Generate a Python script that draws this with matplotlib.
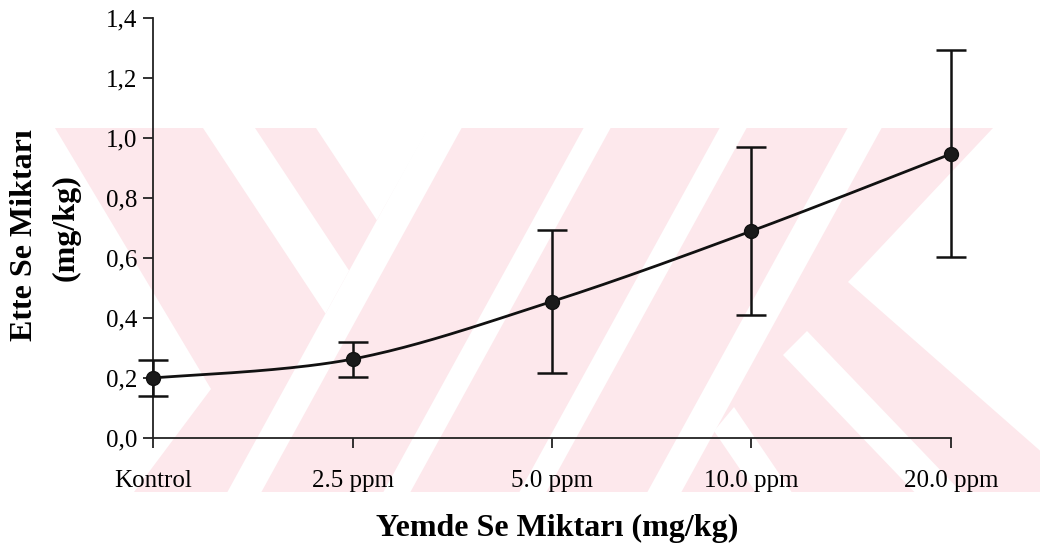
import matplotlib
matplotlib.use('Agg')
import matplotlib.pyplot as plt
import numpy as np
from matplotlib.patches import Polygon, Rectangle

# data
groups = ['Kontrol', '2.5 ppm', '5.0 ppm', '10.0 ppm', '20.0 ppm']
means = [0.200, 0.263, 0.455, 0.690, 0.947]
sd = [0.060, 0.058, 0.238, 0.280, 0.345]
yticks = [0.0, 0.2, 0.4, 0.6, 0.8, 1.0, 1.2, 1.4]
ytick_labels = ['0,0', '0,2', '0,4', '0,6', '0,8', '1,0', '1,2', '1,4']

W, H = 1062, 559
plt.rcParams['font.family'] = ['Liberation Serif', 'DejaVu Serif']

fig = plt.figure(figsize=(W / 100, H / 100), dpi=100)
fig.patch.set_facecolor('white')

# background watermark, drawn in pixel coordinates
bg = fig.add_axes([0, 0, 1, 1], zorder=0)
bg.set_xlim(0, W)
bg.set_ylim(H, 0)
bg.axis('off')
pink = '#fde8ec'
clip = Rectangle((55, 128), 985, 364, transform=bg.transData, fill=False, lw=0)
bg.add_patch(clip)

def add_poly(pts, color='white'):
    p = Polygon(pts, closed=True, fc=color, ec='none')
    bg.add_patch(p)
    p.set_clip_path(clip)

s_up = 0.55    # "/" stripes: x grows by s_up per pixel going up
s_dn = 0.66    # "\" edges on the left

def slash_x(xb, y):
    return xb + s_up * (500 - y)

def meet(xt, xb):
    # "\" edge starting at (xt,128) meets "/" edge with bottom x xb
    y = (xb + s_up * 500 - xt + s_dn * 128) / (s_dn + s_up)
    return (xt + s_dn * (y - 128), y)

add_poly([(55, 128), (1040, 128), (1040, 492), (55, 492)], pink)

# "/" white stripes, given by their x range at the bottom
for a, b in [(223, 257), (379, 406), (515, 542), (643, 677)]:
    add_poly([(slash_x(a, 128), 128), (slash_x(b, 128), 128), (b, 500), (a, 500)])

# left chevrons ending on the first stripe
add_poly([(203, 128), (255, 128), meet(255, 223), meet(203, 223)])
add_poly([(316, 128), (slash_x(223, 128) + 1, 128), meet(316, 223)])
# white corner at the lower left
add_poly([(55, 128), (211, 389), (134, 492), (55, 492)])

# right side
add_poly([(993, 128), (1045, 128), (1045, 455), (848, 282)])
add_poly([(783, 355), (807, 331), (969, 500), (922, 500)])
add_poly([(714, 431), (734, 407), (797, 500), (761, 500)])

# main axes
ax = fig.add_axes([153 / W, 1 - 438 / H, (951 - 153) / W, (438 - 18) / H], zorder=1)
ax.patch.set_visible(False)

x = np.arange(len(groups))

# smoothed line (Catmull-Rom through the points)
px = np.concatenate([[x[0]], x, [x[-1]]]).astype(float)
py = np.concatenate([[means[0]], means, [means[-1]]])
sx, sy = [], []
t = np.linspace(0, 1, 40)
for i in range(1, len(px) - 2):
    for arr, out in ((px, sx), (py, sy)):
        p0, p1, p2, p3 = arr[i - 1], arr[i], arr[i + 1], arr[i + 2]
        out.extend(0.5 * (2 * p1 + (-p0 + p2) * t + (2 * p0 - 5 * p1 + 4 * p2 - p3) * t ** 2
                          + (-p0 + 3 * p1 - 3 * p2 + p3) * t ** 3))
ax.plot(sx, sy, color='#111111', lw=2.0, zorder=3, clip_on=False)

eb = ax.errorbar(x, means, yerr=sd, fmt='none', ecolor='#111111', elinewidth=1.8,
                 capsize=11, capthick=1.8, zorder=4)
for part in eb.lines[1] + eb.lines[2]:
    part.set_clip_on(False)
ax.plot(x, means, 'o', color='#1a1a1a', ms=10, mec='#111111', zorder=5, clip_on=False)

ax.set_xlim(0, len(groups) - 1)
ax.set_ylim(0, 1.4)
ax.set_xticks(x)
ax.set_xticklabels(groups, fontsize=18)
ax.set_yticks(yticks)
ax.set_yticklabels(ytick_labels, fontsize=18)
for s in ['top', 'right']:
    ax.spines[s].set_visible(False)
for s in ['left', 'bottom']:
    ax.spines[s].set_linewidth(1.3)
    ax.spines[s].set_color('#222222')
ax.tick_params(axis='both', direction='out', length=7, width=1.3, color='#222222')
ax.tick_params(axis='x', pad=16)
ax.tick_params(axis='y', pad=4)

fig.text(25 / W, 1 - 235 / H, 'Ette Se Miktarı', rotation=90, fontsize=23,
         fontweight='bold', ha='center', va='center')
fig.text(66 / W, 1 - 228 / H, '(mg/kg)', rotation=90, fontsize=23,
         fontweight='bold', ha='center', va='center')
fig.text(557 / W, 1 - 528 / H, 'Yemde Se Miktarı (mg/kg)', fontsize=23,
         fontweight='bold', ha='center', va='center')

fig.savefig('out.png', dpi=100)
